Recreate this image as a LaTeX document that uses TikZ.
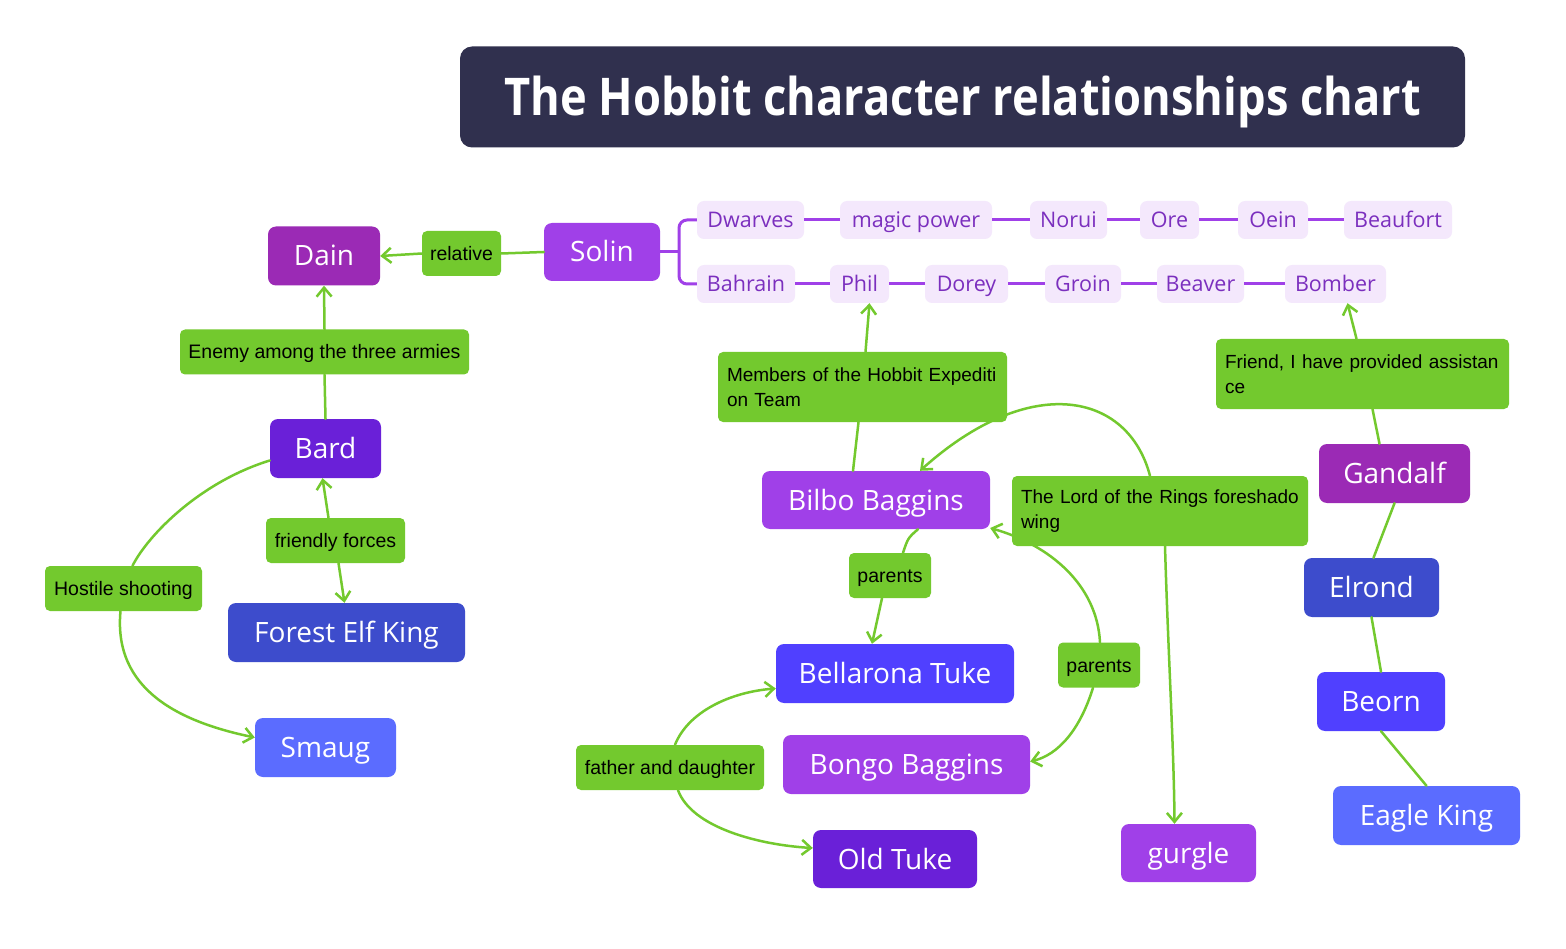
\documentclass[tikz,border=0pt]{standalone}
\usepackage{fontspec}
\setmainfont{Open Sans}
\newfontfamily\labff{Liberation Sans}
\newfontfamily\titleff{Open Sans}[FakeStretch=0.87]
\usetikzlibrary{arrows.meta,calc}
\definecolor{titlebg}{HTML}{30304E}
\definecolor{grn}{HTML}{73C92E}
\definecolor{cdain}{HTML}{9B2AB5}
\definecolor{csolin}{HTML}{A040E8}
\definecolor{cbard}{HTML}{6A20D8}
\definecolor{celf}{HTML}{3D4CCC}
\definecolor{cbell}{HTML}{5040FF}
\definecolor{csmaug}{HTML}{5B6CFF}
\definecolor{smfill}{HTML}{F4E8FC}
\definecolor{smtext}{HTML}{7B2FBE}
\begin{document}
\begin{tikzpicture}[x=1pt,y=-1pt,
  mainnode/.style={rounded corners=8pt,text=white,inner sep=0pt,align=center,
    text height=20pt,text depth=0pt,
    font=\fontsize{28pt}{32pt}\selectfont},
  smallnode/.style={rounded corners=7pt,fill=smfill,text=smtext,inner sep=0pt,
    text height=15pt,text depth=0pt,
    minimum height=38pt,font=\fontsize{21.5pt}{25pt}\selectfont},
  labnode/.style={rounded corners=5pt,fill=grn,text=black,inner sep=0pt,
    text height=14pt,text depth=0pt,
    minimum height=45pt,font=\labff\fontsize{19.5pt}{25pt}\selectfont},
  wlab/.style={rounded corners=5pt,fill=grn,text=black,inner sep=0pt,
    font=\labff\fontsize{19pt}{25pt}\selectfont,
    align=left,minimum height=70pt,inner xsep=9pt},
  gline/.style={draw=grn,line width=2.5pt,line cap=round,line join=round},
  garrow/.style={gline,-{Straight Barb[length=9pt,width=15pt]}},
  pline/.style={draw=csolin,line width=3pt}
]
\useasboundingbox (0,0) rectangle (1566,949);
\fill[white] (0,0) rectangle (1566,949);

% title
\node[fill=titlebg,rounded corners=12pt,minimum width=1005pt,minimum height=101pt,
  text height=38pt,text depth=0pt,
  text=white,font=\titleff\bfseries\fontsize{52pt}{58pt}\selectfont] (title) at (962.5,97)
  {The Hobbit character relationships chart};

% main nodes
\node[mainnode,fill=cdain,minimum width=112pt,minimum height=59pt] (dain) at (324,256) {Dain};
\node[mainnode,fill=csolin,minimum width=116pt,minimum height=58pt] (solin) at (602,252) {Solin};
\node[mainnode,fill=cbard,minimum width=111pt,minimum height=59pt] (bard) at (325.5,448.5) {Bard};
\node[mainnode,fill=celf,minimum width=237pt,minimum height=59pt] (elf) at (346.5,632.5) {Forest Elf King};
\node[mainnode,fill=csmaug,minimum width=141pt,minimum height=59pt] (smaug) at (325.5,747.5) {Smaug};
\node[mainnode,fill=csolin,minimum width=228pt,minimum height=58pt] (bilbo) at (876,500) {Bilbo Baggins};
\node[mainnode,fill=cbell,minimum width=238pt,minimum height=59pt] (bell) at (895,673.5) {Bellarona Tuke};
\node[mainnode,fill=csolin,minimum width=247pt,minimum height=59pt] (bongo) at (906.5,764.5) {Bongo Baggins};
\node[mainnode,fill=cbard,minimum width=164pt,minimum height=58pt] (oldtuke) at (895,859) {Old Tuke};
\node[mainnode,fill=csolin,minimum width=135pt,minimum height=58pt] (gurgle) at (1188.5,853) {gurgle};
\node[mainnode,fill=cdain,minimum width=151pt,minimum height=59pt] (gandalf) at (1394.5,473.5) {Gandalf};
\node[mainnode,fill=celf,minimum width=135pt,minimum height=59pt] (elrond) at (1371.5,587.5) {Elrond};
\node[mainnode,fill=cbell,minimum width=128pt,minimum height=59pt] (beorn) at (1381,701.5) {Beorn};
\node[mainnode,fill=csmaug,minimum width=187pt,minimum height=59pt] (eagle) at (1426.5,815.5) {Eagle King};

% small nodes - top row
\node[smallnode,minimum width=107pt] (dwarves) at (750.5,220) {Dwarves};
\node[smallnode,minimum width=152pt] (magic) at (916,220) {magic power};
\node[smallnode,minimum width=77pt] (norui) at (1068.5,220) {Norui};
\node[smallnode,minimum width=59pt] (ore) at (1169.5,220) {Ore};
\node[smallnode,minimum width=70pt] (oein) at (1273,220) {Oein};
\node[smallnode,minimum width=108pt] (beaufort) at (1398,220) {Beaufort};
% bottom row
\node[smallnode,minimum width=98pt] (bahrain) at (746,284) {Bahrain};
\node[smallnode,minimum width=59pt] (phil) at (859.5,284) {Phil};
\node[smallnode,minimum width=83pt] (dorey) at (966.5,284) {Dorey};
\node[smallnode,minimum width=76pt] (groin) at (1083,284) {Groin};
\node[smallnode,minimum width=87pt] (beaver) at (1200.5,284) {Beaver};
\node[smallnode,minimum width=101pt] (bomber) at (1335.5,284) {Bomber};

% labels
\node[labnode,minimum width=79pt] (relative) at (461.5,253.5) {relative};
\node[labnode,minimum width=289pt] (enemy) at (324.5,352) {Enemy among the three armies};
\node[labnode,minimum width=139pt] (friendly) at (335.5,540.5) {friendly forces};
\node[labnode,minimum width=157pt] (hostile) at (123.5,588.5) {Hostile shooting};
\node[wlab,text width=271pt] (members) at (862.5,387) {\mbox{Members of the Hobbit Expediti}\\\mbox{on Team}};
\node[wlab,text width=278pt] (lord) at (1160,511) {\mbox{The Lord of the Rings foreshado}\\\mbox{wing}};
\node[wlab,text width=275pt] (friend) at (1362.5,374) {\mbox{Friend, I have provided assistan}\\\mbox{ce}};
\node[labnode,minimum width=82pt] (parentsA) at (890,575.5) {parents};
\node[labnode,minimum width=82pt] (parentsB) at (1099,665) {parents};
\node[labnode,minimum width=188pt] (father) at (670,767.5) {father and daughter};

% purple chains
\coordinate (br) at (679,252);
\draw[pline] (solin.east) -- (br);
\draw[pline,rounded corners=8pt] (dwarves.west) -| (br) |- (bahrain.west);
\draw[pline] (dwarves) -- (magic);
\draw[pline] (magic) -- (norui);
\draw[pline] (norui) -- (ore);
\draw[pline] (ore) -- (oein);
\draw[pline] (oein) -- (beaufort);
\draw[pline] (bahrain) -- (phil);
\draw[pline] (phil) -- (dorey);
\draw[pline] (dorey) -- (groin);
\draw[pline] (groin) -- (beaver);
\draw[pline] (beaver) -- (bomber);

% green connectors
\draw[gline] (solin.west) -- (relative.east);
\draw[garrow] (relative.west) -- (dain.east);
\draw[gline] (bard.north) -- (enemy.south);
\draw[garrow] (enemy.north) -- (dain.south);
\draw[garrow] ($(friendly.north)+(-7,0)$) -- ($(bard.south)+(-3,0)$);
\draw[garrow] ($(friendly.south)+(3,0)$) -- ($(elf.north)+(-2,0)$);
\draw[gline] ($(bard.west)+(0,12)$) .. controls (200,482) and (148,535) .. ($(hostile.north)+(9,0)$);
\draw[garrow] ($(hostile.south)+(-3,0)$) .. controls (113,690) and (180,722) .. ($(smaug.west)+(0,-10)$);

\draw[gline] ($(bilbo.north)+(-23,0)$) -- ($(members.south)+(-4,0)$);
\draw[garrow] ($(members.north)+(3,0)$) -- ($(phil.south)+(10,0)$);

\draw[garrow] ($(lord.north)+(-10,0)$) .. controls (1128,392) and (1030,372) .. ($(bilbo.north)+(44,0)$);
\draw[garrow] ($(lord.south)+(5,0)$) .. controls (1168,650) and (1174,750) .. ($(gurgle.north)+(-14,0)$);

\draw[gline] ($(bilbo.south)+(42,0)$) .. controls (908,538) .. ($(parentsA.north)+(13,0)$);
\draw[garrow] ($(parentsA.south)+(-8,0)$) -- ($(bell.north)+(-23,0)$);

\draw[garrow] ($(parentsB.north)+(1,0)$) .. controls (1097,585) and (1050,545) .. ($(bilbo.east)+(0,28)$);
\draw[garrow] ($(parentsB.south)+(-6,0)$) .. controls (1080,730) and (1058,755) .. ($(bongo.east)+(0,-3)$);

\draw[garrow] ($(father.north)+(5,0)$) .. controls (688,712) and (730,692) .. ($(bell.west)+(0,15)$);
\draw[garrow] ($(father.south)+(8,0)$) .. controls (692,828) and (760,845) .. ($(oldtuke.west)+(0,-11)$);

\draw[gline] ($(gandalf.north)+(-15,0)$) -- ($(friend.south)+(10,0)$);
\draw[garrow] ($(friend.north)+(-6,0)$) -- ($(bomber.south)+(12,0)$);
\draw[gline] (gandalf.south) -- ($(elrond.north)+(2,0)$);
\draw[gline] (elrond.south) -- (beorn.north);
\draw[gline] (beorn.south) -- ($(eagle.north)+(0,0)$);
\end{tikzpicture}
\end{document}
